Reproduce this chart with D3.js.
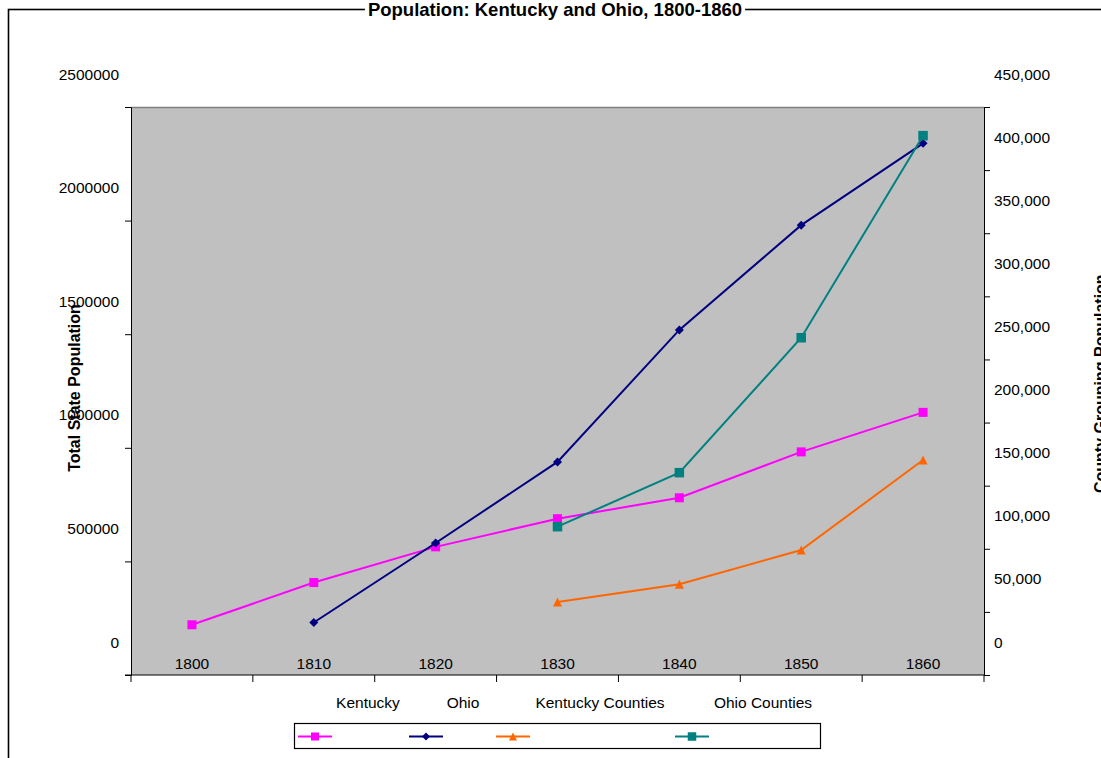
<!DOCTYPE html>
<html>
<head>
<meta charset="utf-8">
<script src="https://cdnjs.cloudflare.com/ajax/libs/d3/7.8.5/d3.min.js"></script>
<style>
  html, body { margin: 0; padding: 0; background: #fff; }
  svg { display: block; font-family: Arial, "Liberation Sans", sans-serif; }
</style>
</head>
<body>
<svg id="chart" width="1101" height="758"></svg>
<script>
// Census years (category axis)
const years = ["1800", "1810", "1820", "1830", "1840", "1850", "1860"];

// Total state population (left axis)
const kentucky = [221000, 407000, 564000, 688000, 780000, 982000, 1156000];
const ohio = [null, 231000, 581000, 938000, 1519000, 1980000, 2340000];

// County grouping population (right axis)
const kentuckyCounties = [null, null, null, 57800, 71900, 99000, 170300];
const ohioCounties = [null, null, null, 117500, 160300, 267200, 427300];

// Axis ticks
const leftTicks = [0, 500000, 1000000, 1500000, 2000000, 2500000];
const rightTicks = [0, 50000, 100000, 150000, 200000, 250000, 300000, 350000, 400000, 450000];

const legendNames = ["Kentucky", "Ohio", "Kentucky Counties", "Ohio Counties"];

const W = 1101, H = 758;
const plot = { left: 131, right: 984, top: 107, bottom: 675 };

const svg = d3.select("#chart");

// Outer chart frame
svg.append("rect")
  .attr("x", 8.5).attr("y", 9.5)
  .attr("width", W + 10).attr("height", H + 10)
  .attr("fill", "#fff").attr("stroke", "#000").attr("stroke-width", 1.6);

// Scales
const x = d3.scaleBand().domain(years).range([plot.left, plot.right]).padding(0);
const yL = d3.scaleLinear().domain([0, 2500000]).range([plot.bottom, plot.top]);
const yR = d3.scaleLinear().domain([0, 450000]).range([plot.bottom, plot.top]);
const cx = d => x(d) + x.bandwidth() / 2;

// Plot area
svg.append("rect")
  .attr("x", plot.left).attr("y", plot.top)
  .attr("width", plot.right - plot.left).attr("height", plot.bottom - plot.top)
  .attr("fill", "#c0c0c0");
svg.append("line")
  .attr("x1", plot.left).attr("x2", plot.right)
  .attr("y1", plot.top + 0.5).attr("y2", plot.top + 0.5)
  .attr("stroke", "#808080").attr("stroke-width", 1.5);

function styleAxis(g) {
  g.attr("font-family", null).attr("font-size", null);
  g.select(".domain").attr("stroke", "#000");
  g.selectAll(".tick line").attr("stroke", "#000");
  g.selectAll(".tick text")
    .attr("y", -28).attr("dy", 0)
    .attr("font-size", 15.5).attr("fill", "#000");
}

// Left axis: labels sit above their tick marks
const gL = svg.append("g").attr("transform", `translate(${plot.left},0)`)
  .call(d3.axisLeft(yL).tickValues(leftTicks).tickSize(6).tickPadding(6)
    .tickFormat(d3.format("d")));
styleAxis(gL);

// Right axis
const gR = svg.append("g").attr("transform", `translate(${plot.right},0)`)
  .call(d3.axisRight(yR).tickValues(rightTicks).tickSize(6).tickPadding(4)
    .tickFormat(d3.format(",")));
styleAxis(gR);

// Category axis: labels inside the plot, ticks at band boundaries
const gX = svg.append("g").attr("transform", `translate(0,${plot.bottom})`)
  .call(d3.axisBottom(x).tickSize(0).tickPadding(0));
gX.attr("font-family", null).attr("font-size", null);
gX.select(".domain").remove();
gX.selectAll(".tick text")
  .attr("y", -6).attr("dy", 0)
  .attr("font-size", 15.5).attr("fill", "#000");
svg.append("line")
  .attr("x1", plot.left - 6).attr("x2", plot.right)
  .attr("y1", plot.bottom).attr("y2", plot.bottom)
  .attr("stroke", "#000").attr("stroke-width", 1.2);
const bounds = years.map(d => x(d)).concat([x.range()[1]]);
svg.append("g").selectAll("line").data(bounds).join("line")
  .attr("x1", d => d).attr("x2", d => d)
  .attr("y1", plot.bottom).attr("y2", plot.bottom + 7)
  .attr("stroke", "#000");

// Axis titles
svg.append("text")
  .attr("transform", `translate(80,388) rotate(-90)`)
  .attr("text-anchor", "middle")
  .attr("font-size", 16).attr("font-weight", "bold")
  .text("Total State Population");
svg.append("text")
  .attr("transform", `translate(1106,493) rotate(-90)`)
  .attr("text-anchor", "start")
  .attr("font-size", 16).attr("font-weight", "bold")
  .text("County Grouping Population");

// Chart title with a white backing over the frame line
const titleBack = svg.append("rect").attr("fill", "#fff");
const title = svg.append("text")
  .attr("x", 555).attr("y", 16)
  .attr("text-anchor", "middle")
  .attr("font-size", 18.5).attr("font-weight", "bold")
  .text("Population: Kentucky and Ohio, 1800-1860");
const tb = title.node().getBBox();
titleBack.attr("x", tb.x - 3).attr("y", 5)
  .attr("width", tb.width + 6).attr("height", 10);

// Marker shapes
const shapes = {
  square: (g, s) => g.append("rect").attr("x", -s / 2).attr("y", -s / 2).attr("width", s).attr("height", s),
  diamond: (g, s) => g.append("path").attr("d", `M0,${-s / 2}L${s / 2},0L0,${s / 2}L${-s / 2},0Z`),
  triangle: (g, s) => g.append("path").attr("d", `M0,${-s / 2}L${s / 2},${s / 2}L${-s / 2},${s / 2}Z`)
};

const series = [
  { name: legendNames[0], values: kentucky, y: yL, color: "#ff00ff", shape: "square", size: 9 },
  { name: legendNames[1], values: ohio, y: yL, color: "#000080", shape: "diamond", size: 9 },
  { name: legendNames[2], values: kentuckyCounties, y: yR, color: "#ff6600", shape: "triangle", size: 9 },
  { name: legendNames[3], values: ohioCounties, y: yR, color: "#008080", shape: "square", size: 9.5 }
];

series.forEach(s => {
  const pts = years.map((yr, i) => ({ yr, v: s.values[i] })).filter(p => p.v != null);
  const line = d3.line().x(p => cx(p.yr)).y(p => s.y(p.v));
  svg.append("path").datum(pts)
    .attr("d", line).attr("fill", "none")
    .attr("stroke", s.color).attr("stroke-width", 2);
  pts.forEach(p => {
    const g = svg.append("g").attr("transform", `translate(${cx(p.yr)},${s.y(p.v)})`);
    shapes[s.shape](g, s.size).attr("fill", s.color);
  });
});

// Legend: names above, keys inside the box
const legendLabelX = [368, 463, 600, 763];
const legendKeyX = [315, 426, 513, 692];
svg.append("g").selectAll("text").data(legendNames).join("text")
  .attr("x", (d, i) => legendLabelX[i]).attr("y", 708)
  .attr("text-anchor", "middle").attr("font-size", 15.5)
  .text(d => d);
svg.append("rect")
  .attr("x", 294.5).attr("y", 723.5).attr("width", 526).attr("height", 25)
  .attr("fill", "#fff").attr("stroke", "#000").attr("stroke-width", 1.2);
series.forEach((s, i) => {
  const g = svg.append("g").attr("transform", `translate(${legendKeyX[i]},736.5)`);
  g.append("line").attr("x1", -17).attr("x2", 17)
    .attr("stroke", s.color).attr("stroke-width", 2);
  shapes[s.shape](g, s.size - 1).attr("fill", s.color);
});
</script>
</body>
</html>
